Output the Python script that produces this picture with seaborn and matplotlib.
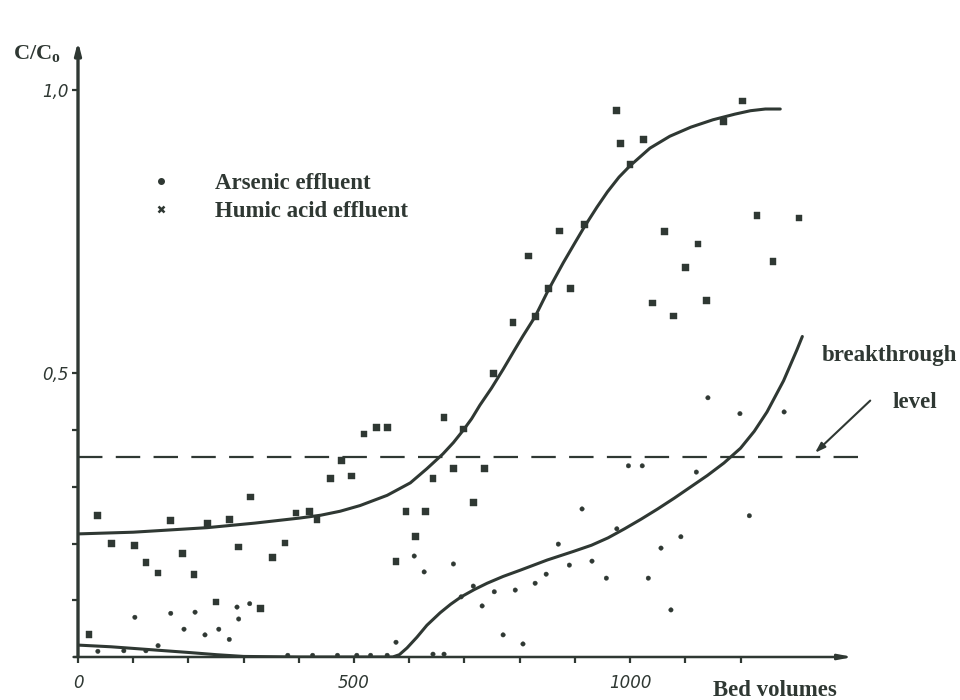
import matplotlib
matplotlib.use("Agg")
import matplotlib.pyplot as plt
from matplotlib.lines import Line2D
import seaborn as sns
import pandas as pd

# humic acid effluent (squares)
humic_bv = [20, 36, 60, 103, 123, 145, 168, 190, 210, 234, 250, 275, 291, 313, 330, 353,
            375, 395, 420, 433, 458, 477, 495, 518, 540, 561, 576, 594, 611, 629, 643, 663,
            680, 698, 716, 736, 752, 788, 816, 828, 852, 872, 892, 917, 975, 982, 1000, 1024,
            1040, 1062, 1078, 1101, 1123, 1139, 1169, 1203, 1230, 1259, 1306]
humic_c = [0.04, 0.25, 0.20, 0.196, 0.166, 0.148, 0.24, 0.183, 0.145, 0.235, 0.097, 0.243,
           0.194, 0.282, 0.086, 0.176, 0.201, 0.254, 0.257, 0.243, 0.315, 0.347, 0.319, 0.393,
           0.404, 0.404, 0.168, 0.256, 0.212, 0.256, 0.314, 0.422, 0.333, 0.402, 0.273, 0.332,
           0.50, 0.59, 0.707, 0.60, 0.649, 0.751, 0.65, 0.762, 0.963, 0.905, 0.868, 0.912,
           0.624, 0.75, 0.601, 0.686, 0.728, 0.628, 0.944, 0.98, 0.778, 0.697, 0.774]

# arsenic effluent (dots)
arsenic_bv = [36, 83, 123, 145, 103, 168, 192, 212, 230, 255, 274, 288, 291, 311,
              380, 425, 470, 505, 530, 560, 643, 663,
              576, 609, 627, 680, 694, 716, 732, 754, 770, 792, 806, 828, 848, 870, 890,
              913, 931, 957, 976, 997, 1022, 1033, 1056, 1074, 1092, 1120, 1141, 1199,
              1216, 1279]
arsenic_c = [0.01, 0.011, 0.011, 0.02, 0.07, 0.077, 0.049, 0.079, 0.039, 0.049, 0.031, 0.088,
             0.067, 0.094,
             0.003, 0.003, 0.003, 0.003, 0.003, 0.003, 0.005, 0.005,
             0.026, 0.178, 0.15, 0.164, 0.106, 0.125, 0.09, 0.115, 0.039, 0.118, 0.023, 0.13,
             0.146, 0.199, 0.162, 0.261, 0.169, 0.139, 0.226, 0.337, 0.337, 0.139, 0.192,
             0.083, 0.212, 0.326, 0.457, 0.429, 0.249, 0.432]

# hand-drawn fitted curves
humic_fit_bv = [0, 100, 234, 320, 402, 440, 475, 511, 560, 602, 632, 661, 680, 698, 713,
                728, 749, 770, 790, 806, 828, 852, 879, 900, 917, 940, 959, 980, 1000, 1036,
                1072, 1110, 1150, 1190, 1218, 1245, 1272]
humic_fit_c = [0.217, 0.22, 0.228, 0.236, 0.245, 0.25, 0.257, 0.267, 0.285, 0.307, 0.332,
               0.358, 0.378, 0.40, 0.42, 0.444, 0.474, 0.507, 0.54, 0.566, 0.60, 0.647,
               0.695, 0.73, 0.758, 0.793, 0.82, 0.846, 0.866, 0.897, 0.918, 0.934, 0.947,
               0.957, 0.963, 0.966, 0.966]
arsenic_fit_bv = [0, 60, 130, 200, 252, 300, 400, 500, 570, 582, 596, 614, 632, 656, 675,
                  694, 718, 741, 770, 801, 850, 897, 930, 960, 990, 1020, 1050, 1080, 1110,
                  1140, 1170, 1200, 1225, 1248, 1278, 1302, 1312]
arsenic_fit_c = [0.021, 0.018, 0.013, 0.008, 0.004, 0.001, 0.0, 0.0, 0.0, 0.004, 0.016,
                 0.035, 0.056, 0.078, 0.093, 0.106, 0.119, 0.13, 0.142, 0.153, 0.171, 0.186,
                 0.197, 0.21, 0.226, 0.243, 0.261, 0.28, 0.3, 0.32, 0.342, 0.368, 0.398,
                 0.432, 0.487, 0.541, 0.565]

breakthrough = 0.353

ink = "#2f3833"
sns.set_style("white")
plt.rcParams["font.family"] = ["Liberation Serif", "DejaVu Serif"]
plt.rcParams["mathtext.fontset"] = "custom"
plt.rcParams["mathtext.bf"] = "Liberation Serif:bold"
plt.rcParams["mathtext.rm"] = "Liberation Serif"

fig = plt.figure(figsize=(9.6, 7.0), dpi=100)
ax = fig.add_axes([78 / 960, 43 / 700, 795 / 960, 624 / 700])
ax.set_xlim(0, 1440)
ax.set_ylim(0, 1.1)

pts = pd.concat([
    pd.DataFrame({"bv": arsenic_bv, "c": arsenic_c, "series": "Arsenic effluent"}),
    pd.DataFrame({"bv": humic_bv, "c": humic_c, "series": "Humic acid effluent"}),
])
sns.scatterplot(data=pts, x="bv", y="c", style="series", size="series",
                markers={"Arsenic effluent": "o", "Humic acid effluent": "s"},
                sizes={"Arsenic effluent": 10, "Humic acid effluent": 24},
                color=ink, edgecolor=ink, linewidth=0.3, legend=False, ax=ax, zorder=3)

sns.lineplot(x=humic_fit_bv, y=humic_fit_c, color=ink, lw=2.2, ax=ax, zorder=4)
sns.lineplot(x=arsenic_fit_bv, y=arsenic_fit_c, color=ink, lw=2.2, ax=ax, zorder=4)

ax.plot([0, 1435], [breakthrough, breakthrough], color=ink, lw=1.6, dashes=(11, 6),
        clip_on=False)

# axes drawn as arrows
for s in ax.spines.values():
    s.set_visible(False)
ax.annotate("", xy=(0, 1.085), xytext=(0, 0),
            arrowprops=dict(arrowstyle="-|>,head_length=0.7,head_width=0.18", lw=2.4,
                            color=ink, shrinkA=0, shrinkB=0), annotation_clip=False)
ax.annotate("", xy=(1404, 0), xytext=(-8, 0),
            arrowprops=dict(arrowstyle="-|>,head_length=0.8,head_width=0.15", lw=1.8,
                            color=ink, shrinkA=0, shrinkB=0), annotation_clip=False)

ax.set_xticks([0, 500, 1000])
ax.set_xticklabels(["0", "500", "1000"])
ax.set_xticks(range(100, 1300, 100), minor=True)
ax.set_yticks([0.5, 1.0])
ax.set_yticklabels(["0,5", "1,0"])
ax.set_yticks([0.1, 0.2, 0.3, 0.4], minor=True)
ax.tick_params(which="both", direction="out", length=4, width=1.6, color=ink,
               left=True, bottom=True)
ax.tick_params(axis="x", pad=8)
ax.tick_params(axis="y", pad=3)
for lab in ax.get_xticklabels() + ax.get_yticklabels():
    lab.set_family("DejaVu Sans")
    lab.set_style("italic")
    lab.set_fontsize(12)
    lab.set_color(ink)
ax.set_xlabel("")
ax.set_ylabel("")

# legend
handles = [Line2D([], [], ls="none", marker="o", ms=4, color=ink),
           Line2D([], [], ls="none", marker="x", ms=4, mew=1.8, color=ink)]
fig.legend(handles, ["Arsenic effluent", "Humic acid effluent"], loc="upper left",
           bbox_to_anchor=(131 / 960, 1 - 155 / 700), frameon=False, handlelength=1.0,
           handletextpad=1.85, labelspacing=0.3, borderpad=0.3,
           prop={"family": "Liberation Serif", "weight": "bold", "size": 16.5},
           labelcolor=ink)

fig.text(13 / 960, 1 - 54 / 700, r"$\mathbf{C/C_o}$", fontsize=16, color=ink,
         va="center", ha="left")
fig.text(713 / 960, 1 - 690 / 700, "Bed volumes", fontsize=16.5, fontweight="bold",
         color=ink, va="center", ha="left")
fig.text(822 / 960, 1 - 355 / 700, "breakthrough", fontsize=16.5, fontweight="bold",
         color=ink, va="center", ha="left")
fig.text(893 / 960, 1 - 402 / 700, "level", fontsize=16.5, fontweight="bold",
         color=ink, va="center", ha="left")
ax.annotate("", xy=(1335, 0.36), xytext=(1435, 0.452),
            arrowprops=dict(arrowstyle="-|>,head_length=0.6,head_width=0.2", lw=1.5,
                            color=ink, shrinkA=0, shrinkB=0), annotation_clip=False)

fig.savefig("out.png", dpi=100)
